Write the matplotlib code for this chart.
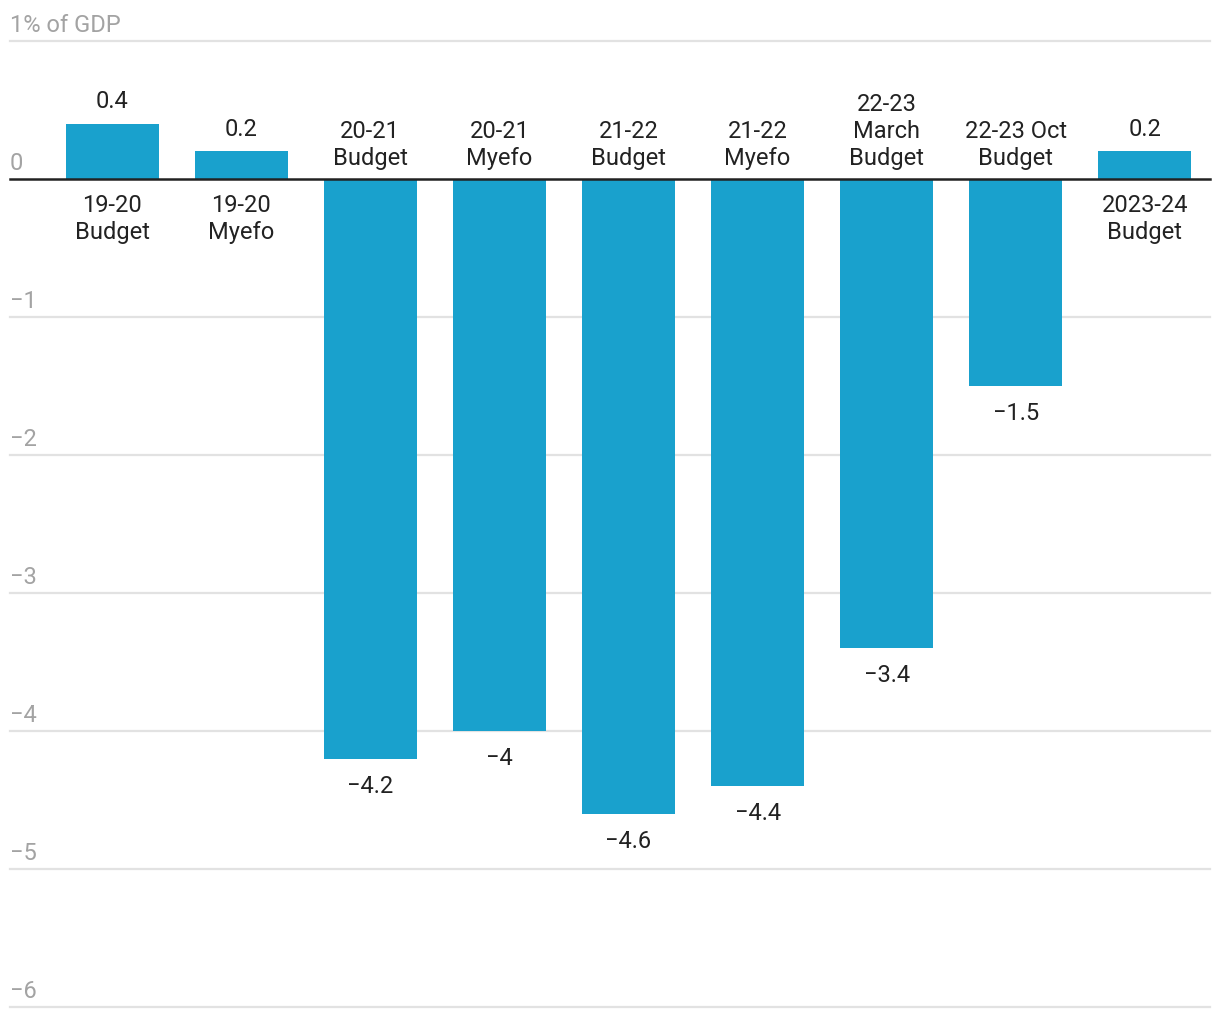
import matplotlib.pyplot as plt

plt.rcParams['font.family'] = ['Roboto', 'DejaVu Sans']

categories = ["19-20\nBudget", "19-20\nMyefo", "20-21\nBudget", "20-21\nMyefo",
              "21-22\nBudget", "21-22\nMyefo", "22-23\nMarch\nBudget",
              "22-23 Oct\nBudget", "2023-24\nBudget"]
values = [0.4, 0.2, -4.2, -4.0, -4.6, -4.4, -3.4, -1.5, 0.2]
value_labels = ["0.4", "0.2", "\u22124.2", "\u22124", "\u22124.6", "\u22124.4",
                "\u22123.4", "\u22121.5", "0.2"]
y_ticks = [1, 0, -1, -2, -3, -4, -5, -6]
y_tick_labels = ["1% of GDP", "0", "\u22121", "\u22122", "\u22123", "\u22124", "\u22125", "\u22126"]

W, H = 1220, 1020
fig = plt.figure(figsize=(W / 100, H / 100), dpi=100)
ax = fig.add_axes([10 / W, (H - 1008) / H, 1200 / W, (1008 - 42) / H])

bar_color = "#19a1cd"
x = list(range(len(values)))
ax.bar(x, values, width=0.72, color=bar_color, zorder=2)

ax.set_xlim(-102 / 129, 8 + 65 / 129)
ax.set_ylim(-6, 1)
ax.axis("off")

fs = 17
# gridlines and y labels
for t, lab in zip(y_ticks, y_tick_labels):
    if t == 0:
        ax.axhline(0, color="#222222", lw=1.8, zorder=3, clip_on=False)
    else:
        ax.axhline(t, color="#e2e2e2", lw=1.6, zorder=1, clip_on=False)
    ax.annotate(lab, xy=(0, t), xycoords=("axes fraction", "data"),
                xytext=(0, 7), textcoords="offset points",
                ha="left", va="baseline", fontsize=fs, color="#a3a3a3")

# bar labels
for xi, v, cat, vl in zip(x, values, categories, value_labels):
    if v >= 0:
        ax.annotate(vl, xy=(xi, v), xytext=(0, 12), textcoords="offset points",
                    ha="center", va="baseline", fontsize=fs, color="#222222")
        ax.annotate(cat, xy=(xi, 0), xytext=(0, -10), textcoords="offset points",
                    ha="center", va="top", fontsize=fs, color="#222222",
                    linespacing=1.22)
    else:
        ax.annotate(cat, xy=(xi, 0), xytext=(0, 11), textcoords="offset points",
                    ha="center", va="baseline", fontsize=fs, color="#222222",
                    linespacing=1.22)
        ax.annotate(vl, xy=(xi, v), xytext=(0, -11), textcoords="offset points",
                    ha="center", va="top", fontsize=fs, color="#222222")

fig.savefig("out.png", dpi=100, facecolor="white")
